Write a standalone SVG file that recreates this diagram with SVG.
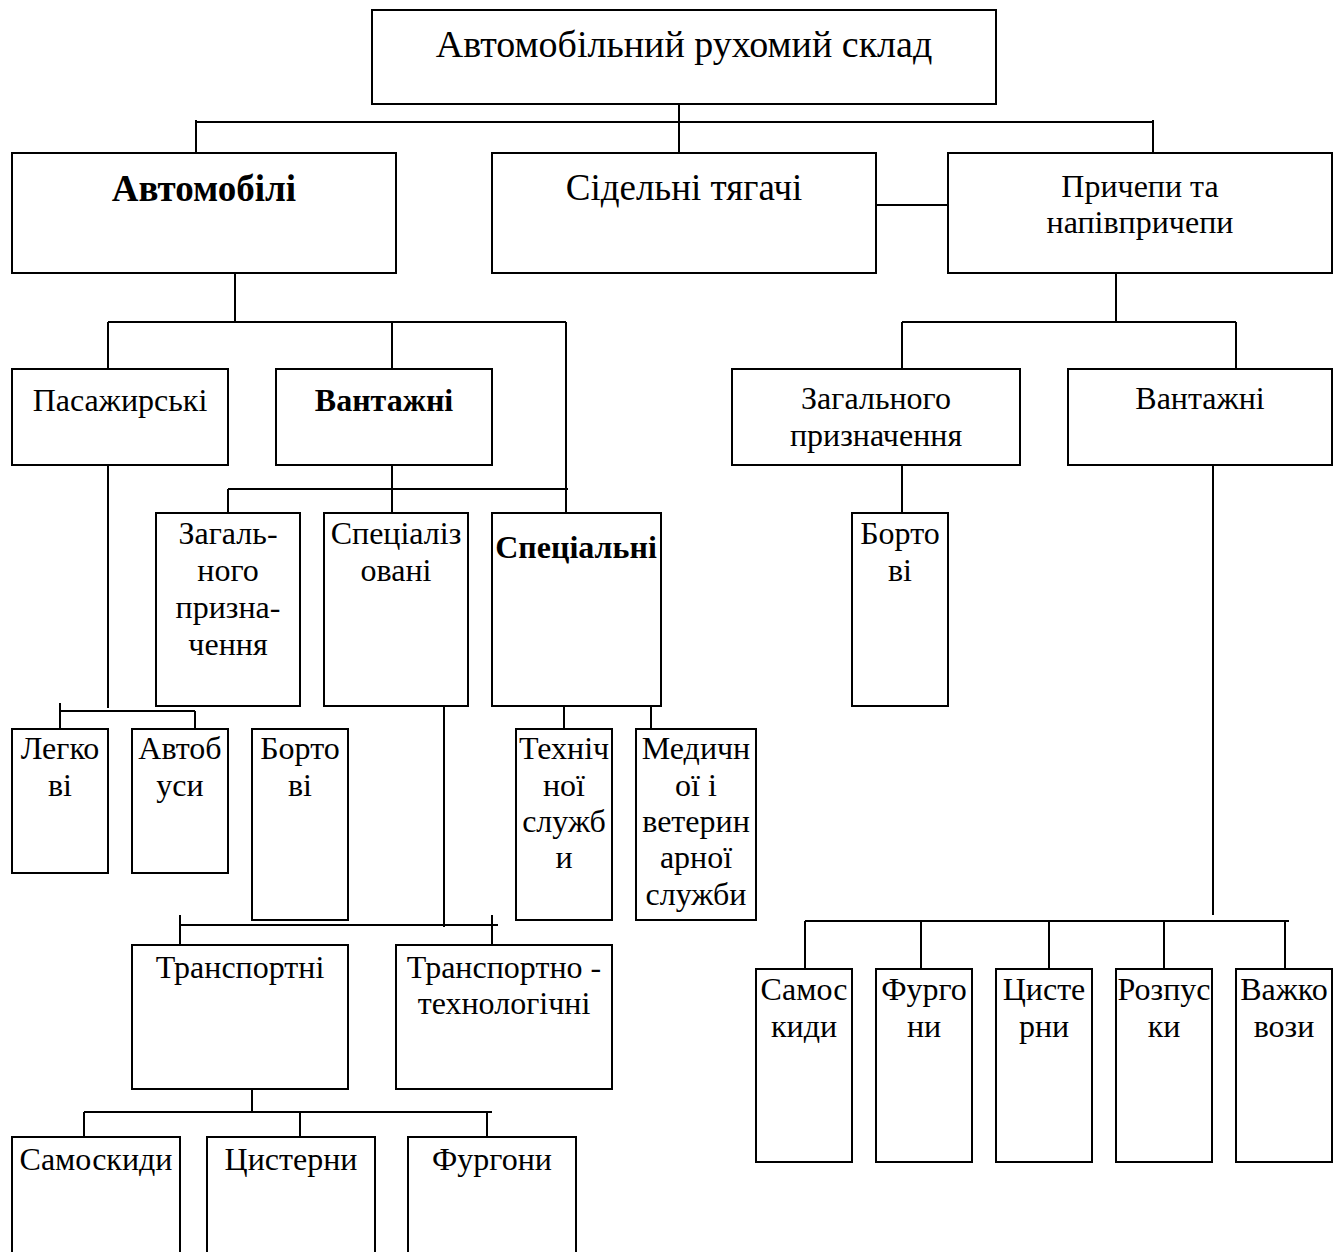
<svg xmlns="http://www.w3.org/2000/svg" width="1344" height="1252" viewBox="0 0 1344 1252">
  <style>
    .box { fill: #ffffff; stroke: #000000; stroke-width: 2; }
    .ln { fill: none; stroke: #000000; stroke-width: 2; }
    text { font-family: "Liberation Serif", "Times New Roman", serif; fill: #000000; text-anchor: middle; }
    .t0 { font-size: 38px; }
    .t1 { font-size: 37px; }
    .t2 { font-size: 32px; }
    .b1 { font-size: 37px; font-weight: bold; }
    .b2 { font-size: 32px; font-weight: bold; }
  </style>
  <rect width="1344" height="1252" fill="#ffffff"/>

  <!-- connectors -->
  <g id="connectors" class="ln">
    <!-- root to first level -->
    <path d="M679 104 V153 M196 122 H1153 M196 120 V153 M1153 120 V153"/>
    <path d="M876 205 H948"/>
    <!-- cars -->
    <path d="M235 273 V323 M108 322 H566 M108 322 V369 M392 322 V369 M566 322 V513"/>
    <!-- trucks -->
    <path d="M392 465 V489 M228 489 H568 M228 489 V513 M392 489 V513"/>
    <!-- passenger -->
    <path d="M108 465 V708 M60 711 H195 M60 703 V729 M195 711 V729"/>
    <!-- special -->
    <path d="M564 706 V729 M651 706 V729"/>
    <!-- specialised -->
    <path d="M444 706 V927 M180 925 H498 M180 915 V945 M492 915 V945"/>
    <!-- transport -->
    <path d="M252 1089 V1112 M84 1112 H492 M84 1112 V1137 M300 1112 V1137 M487 1112 V1137"/>
    <!-- trailers -->
    <path d="M1116 273 V322 M902 322 H1236 M902 322 V369 M1236 322 V369"/>
    <path d="M902 465 V513"/>
    <path d="M1213 465 V915 M805 921 H1289 M805 921 V969 M921 921 V969 M1049 921 V969 M1164 921 V969 M1285 921 V969"/>
  </g>

  <!-- level 0 -->
  <g id="root">
    <rect class="box" x="372" y="10" width="624" height="94"/>
    <text class="t0" x="684" y="57">Автомобільний рухомий склад</text>
  </g>

  <!-- level 1 -->
  <g id="cars">
    <rect class="box" x="12" y="153" width="384" height="120"/>
    <text class="b1" x="204" y="201">Автомобілі</text>
  </g>
  <g id="tractors">
    <rect class="box" x="492" y="153" width="384" height="120"/>
    <text class="t1" x="684" y="200">Сідельні тягачі</text>
  </g>
  <g id="trailers">
    <rect class="box" x="948" y="153" width="384" height="120"/>
    <text class="t2" x="1140" y="197">Причепи та</text>
    <text class="t2" x="1140" y="233">напівпричепи</text>
  </g>

  <!-- cars: level 2 -->
  <g id="passenger">
    <rect class="box" x="12" y="369" width="216" height="96"/>
    <text class="t2" x="120" y="411">Пасажирські</text>
  </g>
  <g id="cargo">
    <rect class="box" x="276" y="369" width="216" height="96"/>
    <text class="b2" x="384" y="411">Вантажні</text>
  </g>

  <!-- cargo: level 3 -->
  <g id="cargo-general">
    <rect class="box" x="156" y="513" width="144" height="193"/>
    <text class="t2" x="228" y="544">Загаль-</text>
    <text class="t2" x="228" y="581">ного</text>
    <text class="t2" x="228" y="618">призна-</text>
    <text class="t2" x="228" y="655">чення</text>
  </g>
  <g id="specialised">
    <rect class="box" x="324" y="513" width="144" height="193"/>
    <text class="t2" x="396" y="544">Спеціаліз</text>
    <text class="t2" x="396" y="581">овані</text>
  </g>
  <g id="special">
    <rect class="box" x="492" y="513" width="169" height="193"/>
    <text class="b2" x="576" y="558">Спеціальні</text>
  </g>

  <!-- passenger: level 4 -->
  <g id="light">
    <rect class="box" x="12" y="729" width="96" height="144"/>
    <text class="t2" x="60" y="759">Легко</text>
    <text class="t2" x="60" y="796">ві</text>
  </g>
  <g id="buses">
    <rect class="box" x="132" y="729" width="96" height="144"/>
    <text class="t2" x="180" y="759">Автоб</text>
    <text class="t2" x="180" y="796">уси</text>
  </g>
  <g id="flatbed">
    <rect class="box" x="252" y="729" width="96" height="191"/>
    <text class="t2" x="300" y="759">Борто</text>
    <text class="t2" x="300" y="796">ві</text>
  </g>
  <g id="technical">
    <rect class="box" x="516" y="729" width="96" height="191"/>
    <text class="t2" x="564" y="759">Техніч</text>
    <text class="t2" x="564" y="796">ної</text>
    <text class="t2" x="564" y="832">служб</text>
    <text class="t2" x="564" y="868">и</text>
  </g>
  <g id="medical">
    <rect class="box" x="636" y="729" width="120" height="191"/>
    <text class="t2" x="696" y="759">Медичн</text>
    <text class="t2" x="696" y="796">ої і</text>
    <text class="t2" x="696" y="832">ветерин</text>
    <text class="t2" x="696" y="868">арної</text>
    <text class="t2" x="696" y="905">служби</text>
  </g>

  <!-- specialised: level 4 -->
  <g id="transport">
    <rect class="box" x="132" y="945" width="216" height="144"/>
    <text class="t2" x="240" y="978">Транспортні</text>
  </g>
  <g id="transport-tech">
    <rect class="box" x="396" y="945" width="216" height="144"/>
    <text class="t2" x="504" y="978">Транспортно -</text>
    <text class="t2" x="504" y="1014">технологічні</text>
  </g>

  <!-- transport: level 5 -->
  <g id="dump">
    <rect class="box" x="12" y="1137" width="168" height="130"/>
    <text class="t2" x="96" y="1170">Самоскиди</text>
  </g>
  <g id="tank">
    <rect class="box" x="207" y="1137" width="168" height="130"/>
    <text class="t2" x="291" y="1170">Цистерни</text>
  </g>
  <g id="van">
    <rect class="box" x="408" y="1137" width="168" height="130"/>
    <text class="t2" x="492" y="1170">Фургони</text>
  </g>

  <!-- trailers: level 2 -->
  <g id="trailer-general">
    <rect class="box" x="732" y="369" width="288" height="96"/>
    <text class="t2" x="876" y="409">Загального</text>
    <text class="t2" x="876" y="446">призначення</text>
  </g>
  <g id="trailer-cargo">
    <rect class="box" x="1068" y="369" width="264" height="96"/>
    <text class="t2" x="1200" y="409">Вантажні</text>
  </g>
  <g id="trailer-flatbed">
    <rect class="box" x="852" y="513" width="96" height="193"/>
    <text class="t2" x="900" y="544">Борто</text>
    <text class="t2" x="900" y="581">ві</text>
  </g>

  <!-- trailer cargo: level 3 -->
  <g id="trailer-dump">
    <rect class="box" x="756" y="969" width="96" height="193"/>
    <text class="t2" x="804" y="1000">Самос</text>
    <text class="t2" x="804" y="1037">киди</text>
  </g>
  <g id="trailer-van">
    <rect class="box" x="876" y="969" width="96" height="193"/>
    <text class="t2" x="924" y="1000">Фурго</text>
    <text class="t2" x="924" y="1037">ни</text>
  </g>
  <g id="trailer-tank">
    <rect class="box" x="996" y="969" width="96" height="193"/>
    <text class="t2" x="1044" y="1000">Цисте</text>
    <text class="t2" x="1044" y="1037">рни</text>
  </g>
  <g id="trailer-logger">
    <rect class="box" x="1116" y="969" width="96" height="193"/>
    <text class="t2" x="1164" y="1000">Розпус</text>
    <text class="t2" x="1164" y="1037">ки</text>
  </g>
  <g id="trailer-heavy">
    <rect class="box" x="1236" y="969" width="96" height="193"/>
    <text class="t2" x="1284" y="1000">Важко</text>
    <text class="t2" x="1284" y="1037">вози</text>
  </g>
</svg>
